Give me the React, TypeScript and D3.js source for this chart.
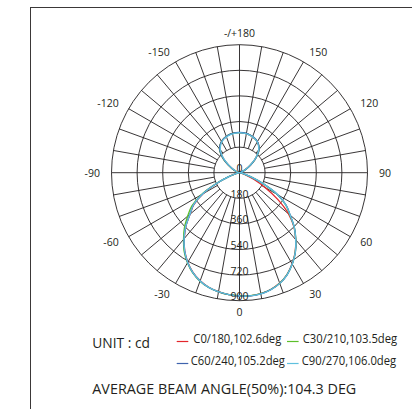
import React from "react";
import * as d3 from "d3";

// gamma angles (deg) for each half-plane, 0 = nadir, 180 = zenith
const gammaSteps = [0, 5, 10, 15, 20, 25, 30, 35, 40, 45, 50, 55, 60, 65, 70, 75, 80, 85, 90, 95, 100, 105, 110, 115, 120, 125, 130, 135, 140, 145, 150, 155, 160, 165, 170, 175, 180];

// intensity (cd), right half (C0, C30, C60, C90) and left half (C180, C210, C240, C270)
const c0Values = [866, 869, 864, 850, 826, 790, 740, 682, 614, 542, 450, 330, 205, 110, 45, 18, 8, 4, 2, 3, 5, 9, 18, 34, 58, 92, 136, 176, 212, 234, 250, 261, 268, 274, 278, 280, 281];
const c180Values = [866, 860, 849, 834, 809, 774, 727, 671, 604, 533, 453, 392, 296, 172, 78, 30, 11, 5, 2, 3, 5, 9, 18, 35, 60, 95, 140, 180, 215, 236, 252, 263, 270, 276, 280, 282, 281];
const c30Values = [865, 868, 863, 850, 827, 791, 742, 684, 616, 545, 462, 398, 305, 182, 82, 31, 11, 5, 2, 3, 5, 9, 18, 35, 60, 95, 140, 180, 214, 235, 251, 262, 269, 275, 279, 281, 282];
const c210Values = [865, 861, 851, 836, 812, 778, 732, 678, 612, 548, 476, 410, 312, 180, 80, 30, 11, 5, 2, 3, 5, 10, 20, 38, 64, 100, 146, 186, 220, 238, 253, 264, 271, 277, 280, 282, 282];
const c60Values = [867, 870, 865, 851, 828, 792, 742, 685, 616, 546, 466, 402, 310, 185, 85, 32, 12, 5, 2, 3, 5, 9, 18, 35, 60, 95, 140, 180, 215, 236, 252, 263, 270, 276, 280, 282, 283];
const c240Values = [867, 861, 851, 836, 811, 776, 729, 673, 606, 535, 455, 395, 300, 175, 80, 30, 11, 5, 2, 3, 5, 9, 19, 37, 63, 99, 145, 184, 218, 238, 253, 264, 271, 277, 281, 283, 283];
const c90Values = [866, 870, 866, 852, 828, 792, 742, 684, 615, 545, 465, 400, 312, 186, 86, 33, 12, 5, 2, 3, 5, 8, 16, 32, 56, 90, 134, 174, 210, 232, 249, 260, 268, 274, 278, 280, 281];
const c270Values = [866, 860, 850, 835, 810, 775, 728, 672, 606, 535, 455, 396, 300, 176, 80, 30, 11, 5, 2, 3, 5, 8, 16, 32, 56, 90, 134, 174, 210, 232, 249, 260, 268, 274, 278, 280, 281];

const seriesNames = ["C0/180,102.6deg", "C30/210,103.5deg", "C60/240,105.2deg", "C90/270,106.0deg"];
const seriesColors = ["#e3262b", "#5cbf2a", "#3f63ad", "#5fc0de"];
const seriesRight = [c0Values, c30Values, c60Values, c90Values];
const seriesLeft = [c180Values, c210Values, c240Values, c270Values];

const ringValues = [180, 360, 540, 720, 900];
const ringLabels = ["0", "180", "360", "540", "720", "900"];
const angleLabels = [0, 30, 60, 90, 120, 150, 180, -150, -120, -90, -60, -30];
const spokeAngles = [-170, -160, -150, -140, -130, -120, -110, -100, -90, -80, -70, -60, -50, -40, -30, -20, -10, 0, 10, 20, 30, 40, 50, 60, 70, 80, 90, 100, 110, 120, 130, 140, 150, 160, 170, 180];

const unitText = "UNIT : cd";
const avgText = "AVERAGE BEAM ANGLE(50%):104.3 DEG";

const W = 412;
const H = 409;
const cx = 239.5;
const cy = 172.7;
const R = 128;
const ink = "#231f20";
const font = "'Open Sans', 'Noto Sans', sans-serif";

export default function App() {
  const r = d3.scaleLinear().domain([0, 900]).range([0, R]);
  const rad = (deg: number) => (deg * Math.PI) / 180;
  const px = (deg: number, rr: number) => cx + rr * Math.sin(rad(deg));
  const py = (deg: number, rr: number) => cy + rr * Math.cos(rad(deg));

  const line = d3
    .lineRadial<[number, number]>()
    .angle((d) => Math.PI - rad(d[0]))
    .radius((d) => r(d[1]))
    .curve(d3.curveCatmullRomClosed.alpha(0.5));

  const paths = seriesRight.map((right, i) => {
    const left = seriesLeft[i];
    const pts: [number, number][] = [];
    for (let k = gammaSteps.length - 1; k >= 1; k--) pts.push([-gammaSteps[k], left[k]]);
    for (let k = 0; k < gammaSteps.length - 1; k++) pts.push([gammaSteps[k], right[k]]);
    return line(pts) as string;
  });

  const labelR = 139.5;

  return (
    <svg width={W} height={H} style={{ position: "absolute", left: 0, top: 0, background: "#fff" }}>
      <rect x={30.5} y={7.5} width={420} height={440} fill="#fff" stroke="#3b3838" strokeWidth={1} />
      <g transform={`translate(${cx},${cy})`} fill="none" stroke={ink} strokeWidth={0.9}>
        {ringValues.map((v) => (
          <circle key={v} r={r(v)} />
        ))}
      </g>
      <g stroke={ink} strokeWidth={0.9}>
        {spokeAngles.map((a) => {
          const full = a % 90 === 0;
          const r0 = full ? 0 : r(ringValues[0]);
          return <line key={a} x1={px(a, r0)} y1={py(a, r0)} x2={px(a, R)} y2={py(a, R)} />;
        })}
      </g>
      <g fill="none" strokeWidth={1.3} transform={`translate(${cx},${cy})`}>
        {paths.map((p, i) => (
          <path key={i} d={p} stroke={seriesColors[i]} />
        ))}
      </g>
      <g fill={ink} fontFamily={font} fontSize={10.5}>
        {ringLabels.map((t, i) => (
          <text key={t} x={cx} y={cy + (i === 0 ? 0 : r(ringValues[i - 1])) - 0.5} textAnchor="middle">
            {t}
          </text>
        ))}
        {angleLabels.map((a) => {
          const s = Math.sin(rad(a));
          const anchor = Math.abs(s) < 0.01 ? "middle" : s > 0 ? "start" : "end";
          const txt = a === 180 ? "-/+180" : String(a);
          return (
            <text key={a} x={px(a, labelR)} y={py(a, labelR)} textAnchor={anchor} dominantBaseline="central">
              {txt}
            </text>
          );
        })}
      </g>
      <g fontFamily={font} fill={ink}>
        <text x={92.3} y={348.3} fontSize={15} textLength={57.7} lengthAdjust="spacingAndGlyphs">
          {unitText}
        </text>
        {seriesNames.map((n, i) => {
          const col = i % 2;
          const row = Math.floor(i / 2);
          const lx = col === 0 ? 176.7 : 287;
          const ly = row === 0 ? 341.5 : 363.5;
          const tx = col === 0 ? (row === 0 ? 193.3 : 190.7) : (row === 0 ? 302.7 : 301.7);
          const ty = row === 0 ? 343.3 : 364.6;
          const tw = col === 0 ? (row === 0 ? 88 : 94.3) : 94.5;
          return (
            <g key={n}>
              <line x1={lx} x2={lx + 11.6} y1={ly} y2={ly} stroke={seriesColors[i]} strokeWidth={1.2} />
              <text x={tx} y={ty} fontSize={12} textLength={tw} lengthAdjust="spacingAndGlyphs">
                {n}
              </text>
            </g>
          );
        })}
        <text x={92.3} y={394} fontSize={15} textLength={264} lengthAdjust="spacingAndGlyphs">
          {avgText}
        </text>
      </g>
    </svg>
  );
}
